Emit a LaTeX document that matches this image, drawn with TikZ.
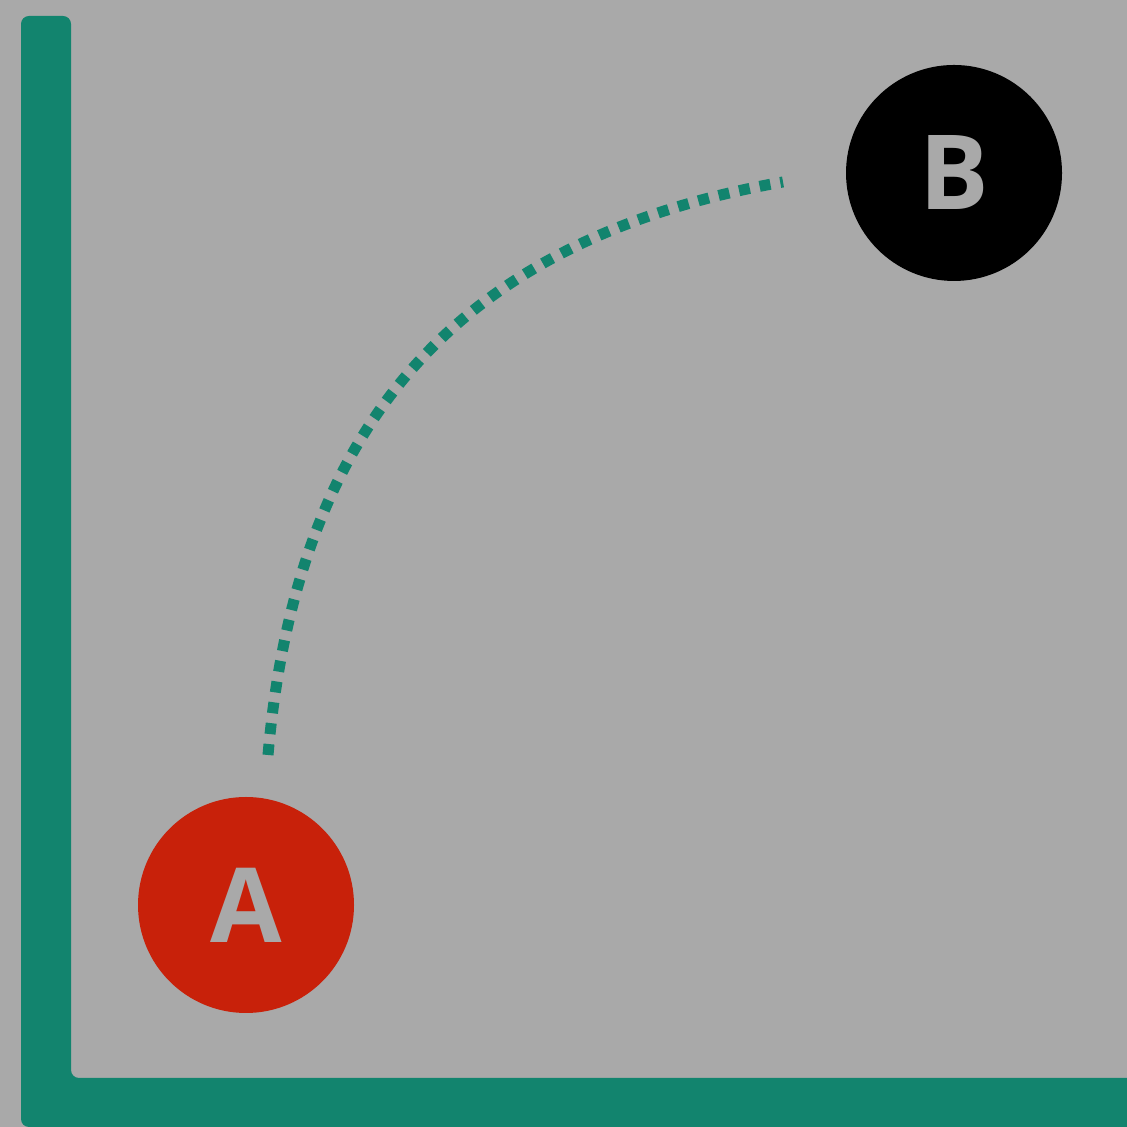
\documentclass[tikz,border=0pt]{standalone}
\usepackage{fontspec}
\setsansfont{Open Sans}
\usetikzlibrary{positioning, calc}
\definecolor{bggray}{HTML}{A9A9A9}
\definecolor{bargreen}{HTML}{12846E}
\definecolor{ptred}{HTML}{C8210A}
\begin{document}
\begin{tikzpicture}[
    x=1cm, y=1cm,
    point/.style={circle, minimum size=2.16cm, inner sep=0pt, text=bggray, font=\sffamily\bfseries\fontsize{29.5}{29.5}\selectfont},
    trail/.style={draw=bargreen, line width=0.11cm, dash pattern=on 0.11cm off 0.10cm}
]
\fill[bggray] (0,0) rectangle (11.27,11.27);
\useasboundingbox (0,0) rectangle (11.27,11.27);
% axis bar
\fill[bargreen, rounded corners=0.08cm] (0.21,0) -- (0.21,11.11) -- (0.71,11.11) -- (0.71,0.49) -- (11.6,0.49) -- (11.6,0) -- cycle;
\node[point, fill=ptred] (A) at (2.46,2.22) {A};
\node[point, fill=black] (B) at (9.54,9.54) {B};
\coordinate (start) at ($(A)+(0.22,1.50)$);
\coordinate (stop) at ($(B)+(-1.71,-0.09)$);
\draw[trail] (start) to[out=85, in=190, looseness=1.1] (stop);
\end{tikzpicture}
\end{document}
